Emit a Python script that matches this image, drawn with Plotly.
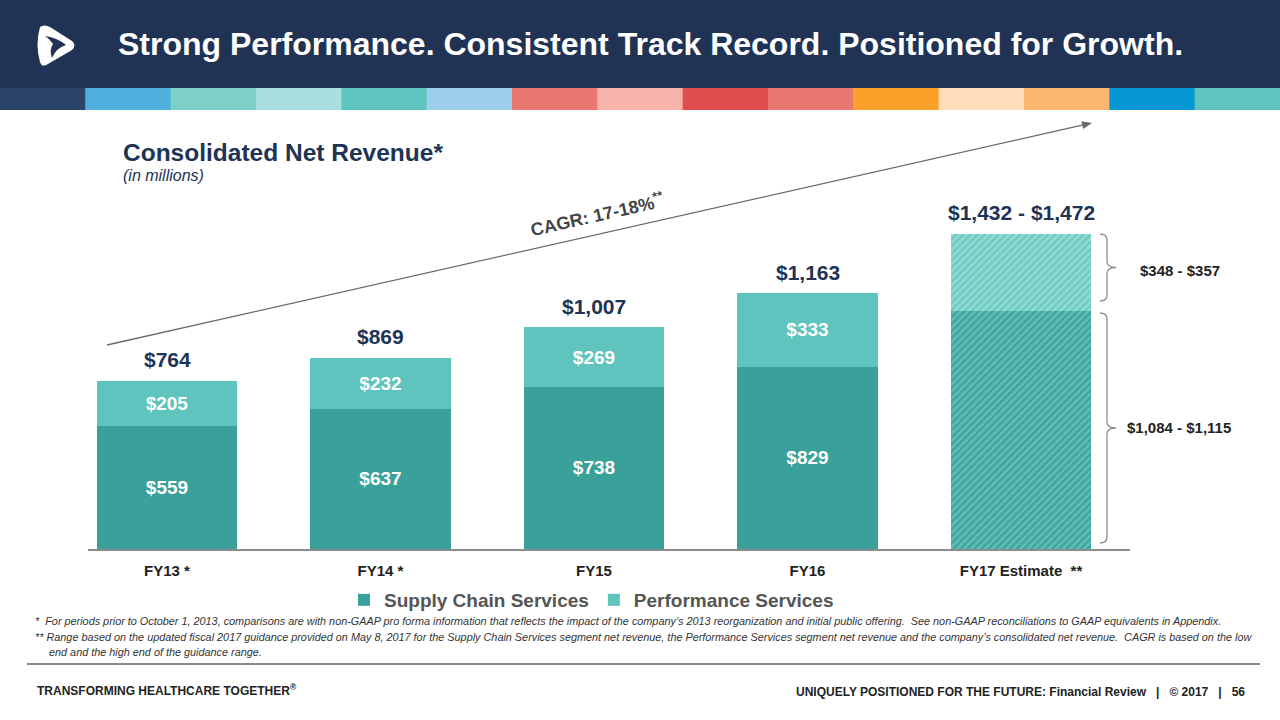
import math
import plotly.graph_objects as go

# ---------------- data ----------------
categories = ["FY13 *", "FY14 *", "FY15", "FY16", "FY17 Estimate  **"]
supply_chain = [559, 637, 738, 829, 1084]
performance = [205, 232, 269, 333, 348]
totals_label = ["$764", "$869", "$1,007", "$1,163", "$1,432 - $1,472"]
fy17_supply_range = "$1,084 - $1,115"
fy17_perf_range = "$348 - $357"
cagr_text = "CAGR: 17-18%<sup>**</sup>"
strip_colors = ["#2b4468", "#4fb0dd", "#7dcfc9", "#aadfe0", "#5fc5bf", "#9bcfec",
                "#e8786f", "#f7b3aa", "#df4f4f", "#e8786f", "#f9a12a", "#ffdcba",
                "#fdb66d", "#0497d3", "#5fc6bf"]

# ---------------- layout geometry (pixels) ----------------
FW, FH = 1280, 720
L, R = 88, 1130          # plot left/right
T, B = 120, 549          # plot top/bottom
W, H = R - L, B - T
YMAX = 1950


def px(x):
    return (x - L) / W


def py(y):
    return (B - y) / H


NAVY = "#203354"
DARK = "#3aa09a"
LIGHT = "#5ec4bd"
FONT = "Liberation Sans, Arial, sans-serif"

n = len(categories)
xs = list(range(n))
BW = 0.656
txtfont = dict(color="white", size=19, family=FONT, weight="bold")

fig = go.Figure()
# actual years
fig.add_trace(go.Bar(
    x=xs[:-1], y=supply_chain[:-1], name="Supply Chain Services", legendgroup="sc",
    marker=dict(color=DARK, line=dict(width=0)),
    text=[f"${v:,}" for v in supply_chain[:-1]],
    textposition="inside", insidetextanchor="middle", textangle=0,
    textfont=txtfont, width=BW, hoverinfo="skip",
))
fig.add_trace(go.Bar(
    x=xs[:-1], y=performance[:-1], name="Performance Services", legendgroup="pf",
    marker=dict(color=LIGHT, line=dict(width=0)),
    text=[f"${v:,}" for v in performance[:-1]],
    textposition="inside", insidetextanchor="middle", textangle=0,
    textfont=txtfont, width=BW, hoverinfo="skip",
))
# FY17 estimate (hatched)
fig.add_trace(go.Bar(
    x=xs[-1:], y=supply_chain[-1:], name="Supply Chain Services", legendgroup="sc",
    showlegend=False,
    marker=dict(color="#5cc0b8", line=dict(width=0),
                pattern=dict(shape="/", fgcolor="#2a8680", size=5, solidity=0.5,
                             fillmode="overlay")),
    width=BW, hoverinfo="skip",
))
fig.add_trace(go.Bar(
    x=xs[-1:], y=performance[-1:], name="Performance Services", legendgroup="pf",
    showlegend=False,
    marker=dict(color="#8fdcd5", line=dict(width=0),
                pattern=dict(shape="/", fgcolor="#55b5ad", size=5, solidity=0.5,
                             fillmode="overlay")),
    width=BW, hoverinfo="skip",
))

annotations = []
# totals above bars
for i in range(n):
    annotations.append(dict(
        x=i, y=supply_chain[i] + performance[i], xref="x", yref="y",
        text=totals_label[i], showarrow=False, yanchor="middle", yshift=21,
        font=dict(size=21, color=NAVY, family=FONT, weight="bold")))

shapes = []
# header band
shapes.append(dict(type="rect", xref="paper", yref="paper", x0=px(0), x1=px(FW),
                   y0=py(88), y1=py(0), fillcolor=NAVY, line=dict(width=0), layer="below"))
seg = FW / len(strip_colors)
for k, c in enumerate(strip_colors):
    shapes.append(dict(type="rect", xref="paper", yref="paper",
                       x0=px(k * seg), x1=px((k + 1) * seg + 0.5), y0=py(110), y1=py(88),
                       fillcolor=c, line=dict(width=0), layer="below"))


def P(x, y):
    return f"{px(x):.5f},{py(y):.5f}"


# logo (approximation)
logo = (f"M {P(40,27)} Q {P(44,24)} {P(50,27)} L {P(72,41)} Q {P(77,45)} {P(72,50)} "
        f"L {P(48,64)} Q {P(42,68)} {P(40,62)} Q {P(35,45)} {P(40,27)} Z")
shapes.append(dict(type="path", xref="paper", yref="paper", path=logo,
                   fillcolor="white", line=dict(width=0)))
logo_in = (f"M {P(45,36)} Q {P(58,38)} {P(66,45)} Q {P(56,48)} {P(52,58)} "
           f"Q {P(49,50)} {P(53,44)} Q {P(50,39)} {P(45,36)} Z")
shapes.append(dict(type="path", xref="paper", yref="paper", path=logo_in,
                   fillcolor=NAVY, line=dict(width=0)))

# CAGR arrow (line + head)
ax0, ay0, ax1, ay1 = 107, 345, 1092, 123
dl = math.hypot(ax1 - ax0, ay1 - ay0)
ux, uy = (ax1 - ax0) / dl, (ay1 - ay0) / dl
nx, ny = -uy, ux
hl, hw = 10, 4
bx, by = ax1 - hl * ux, ay1 - hl * uy
shapes.append(dict(type="line", xref="paper", yref="paper", x0=px(ax0), y0=py(ay0),
                   x1=px(bx), y1=py(by), line=dict(color="#6a6a6a", width=1.3)))
shapes.append(dict(type="path", xref="paper", yref="paper",
                   path=f"M {P(ax1, ay1)} L {P(bx + hw * nx, by + hw * ny)} "
                        f"L {P(bx - hw * nx, by - hw * ny)} Z",
                   fillcolor="#6a6a6a", line=dict(width=0)))


# braces
def brace(y0, y1, xl=1100, xm=1107, xt=1116):
    ym = (y0 + y1) / 2
    r = 6
    return (f"M {P(xl, y0)} Q {P(xm, y0)} {P(xm, y0 + r)} L {P(xm, ym - r)} "
            f"Q {P(xm, ym)} {P(xt, ym)} Q {P(xm, ym)} {P(xm, ym + r)} "
            f"L {P(xm, y1 - r)} Q {P(xm, y1)} {P(xl, y1)}")


shapes.append(dict(type="path", xref="paper", yref="paper", path=brace(234, 301),
                   line=dict(color="#8c8c8c", width=1.3)))
shapes.append(dict(type="path", xref="paper", yref="paper", path=brace(313, 543),
                   line=dict(color="#8c8c8c", width=1.3)))

# separator line above footer
shapes.append(dict(type="line", xref="paper", yref="paper", x0=px(27), x1=px(1260),
                   y0=py(664), y1=py(664), line=dict(color="#8a8a8a", width=2)))

annotations += [
    dict(x=px(1138), y=py(270), xref="paper", yref="paper", text=fy17_perf_range,
         showarrow=False, xanchor="left", yanchor="middle",
         font=dict(size=15, color="#222222", family=FONT, weight="bold")),
    dict(x=px(1125), y=py(427), xref="paper", yref="paper", text=fy17_supply_range,
         showarrow=False, xanchor="left", yanchor="middle",
         font=dict(size=15, color="#222222", family=FONT, weight="bold")),
    # title
    dict(x=px(116), y=py(44), xref="paper", yref="paper",
         text="Strong Performance. Consistent Track Record. Positioned for Growth.",
         showarrow=False, xanchor="left", yanchor="middle",
         font=dict(size=32, color="white", family=FONT, weight="bold")),
    # subtitle
    dict(x=px(121), y=py(152), xref="paper", yref="paper", text="Consolidated Net Revenue*",
         showarrow=False, xanchor="left", yanchor="middle",
         font=dict(size=24.5, color=NAVY, family=FONT, weight="bold")),
    dict(x=px(121), y=py(175), xref="paper", yref="paper", text="<i>(in millions)</i>",
         showarrow=False, xanchor="left", yanchor="middle",
         font=dict(size=16, color=NAVY, family=FONT)),
    # CAGR label
    dict(x=px(597), y=py(214), xref="paper", yref="paper", text=cagr_text,
         showarrow=False, textangle=-12.7, xanchor="center", yanchor="middle",
         font=dict(size=18, color="#444444", family=FONT, weight="bold")),
    # footnotes
    dict(x=px(33), y=py(621), xref="paper", yref="paper",
         text="<i>*  For periods prior to October 1, 2013, comparisons are with non-GAAP pro forma information that reflects the impact of the company\u2019s 2013 reorganization and initial public offering.  See non-GAAP reconciliations to GAAP equivalents in Appendix.</i>",
         showarrow=False, xanchor="left", yanchor="middle",
         font=dict(size=10.85, color="#333333", family=FONT)),
    dict(x=px(33), y=py(637), xref="paper", yref="paper",
         text="<i>** Range based on the updated fiscal 2017 guidance provided on May 8, 2017 for the Supply Chain Services segment net revenue, the Performance Services segment net revenue and the company\u2019s consolidated net revenue.  CAGR is based on the low</i>",
         showarrow=False, xanchor="left", yanchor="middle",
         font=dict(size=10.85, color="#333333", family=FONT)),
    dict(x=px(47), y=py(652), xref="paper", yref="paper",
         text="<i>end and the high end of the guidance range.</i>",
         showarrow=False, xanchor="left", yanchor="middle",
         font=dict(size=10.85, color="#333333", family=FONT)),
    # footer
    dict(x=px(35), y=py(690), xref="paper", yref="paper",
         text="TRANSFORMING HEALTHCARE TOGETHER<sup>\u00ae</sup>",
         showarrow=False, xanchor="left", yanchor="middle",
         font=dict(size=12, color="#222222", family=FONT, weight="bold")),
    dict(x=px(1247), y=py(692), xref="paper", yref="paper",
         text="UNIQUELY POSITIONED FOR THE FUTURE: Financial Review   |   \u00a9 2017   |   56",
         showarrow=False, xanchor="right", yanchor="middle",
         font=dict(size=12, color="#222222", family=FONT, weight="bold")),
]

fig.update_layout(
    width=FW, height=FH, barmode="stack", bargap=0.3,
    margin=dict(l=L, r=FW - R, t=T, b=FH - B, pad=0),
    paper_bgcolor="white", plot_bgcolor="white",
    font=dict(family=FONT),
    showlegend=True,
    legend=dict(orientation="h", x=px(344), y=py(600), xanchor="left", yanchor="middle",
                font=dict(size=19, color="#555555", family=FONT, weight="bold"),
                bgcolor="rgba(0,0,0,0)", itemwidth=30, traceorder="normal"),
    xaxis=dict(range=[-0.37, -0.37 + W / 213.5], tickmode="array",
               tickvals=xs, ticktext=categories, showgrid=False,
               zeroline=False, showline=True, linecolor="#8c8c8c", linewidth=1.5,
               ticks="", ticklabelstandoff=7,
               tickfont=dict(size=15, color="#222222", family=FONT, weight="bold")),
    yaxis=dict(range=[0, YMAX], visible=False, showgrid=False, zeroline=False),
    shapes=shapes, annotations=annotations,
    uniformtext=dict(mode=False),
)

fig.write_html("out.html", config={"displayModeBar": False},
               post_script="document.body.style.margin='0';document.body.style.overflow='hidden';")
